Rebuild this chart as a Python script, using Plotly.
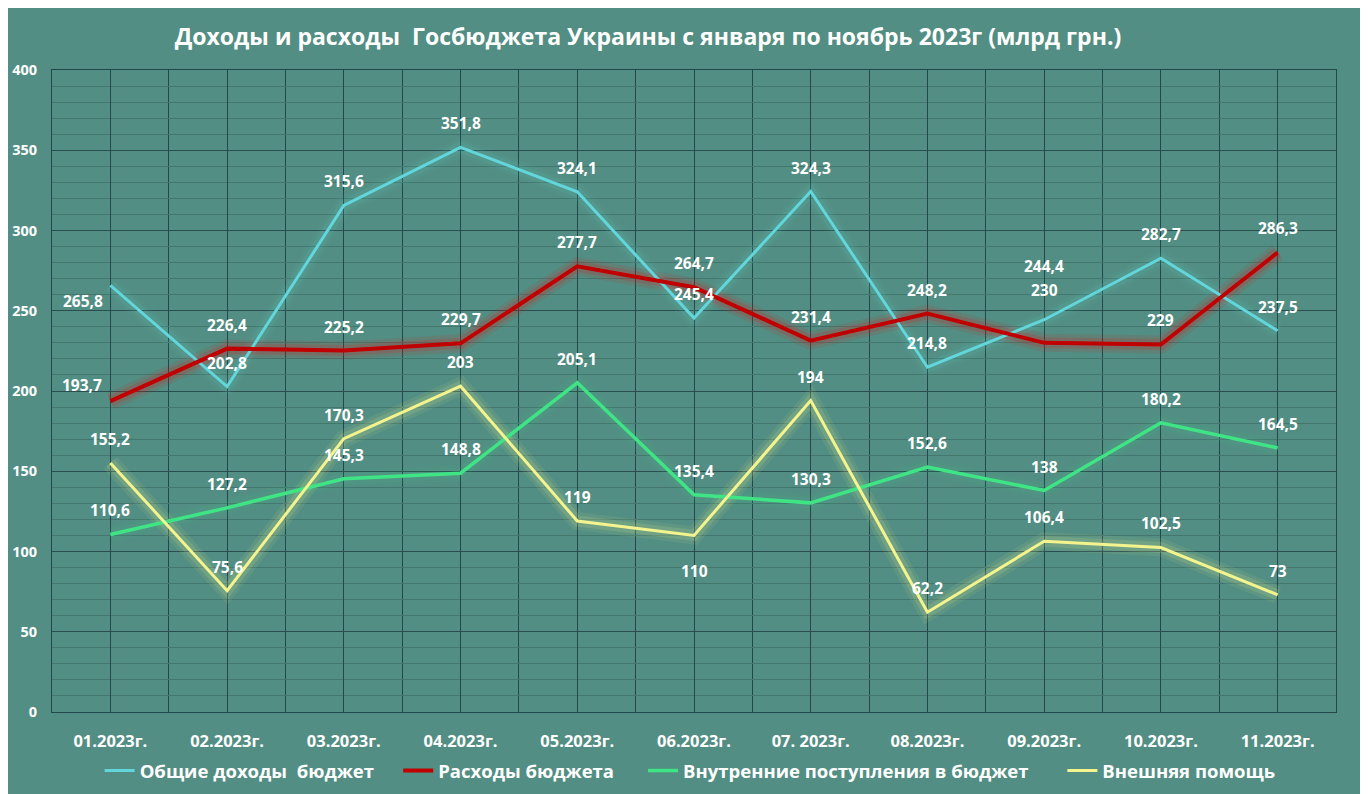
import plotly.graph_objects as go

categories = ["01.2023г.", "02.2023г.", "03.2023г.", "04.2023г.", "05.2023г.", "06.2023г.",
              "07. 2023г.", "08.2023г.", "09.2023г.", "10.2023г.", "11.2023г."]

total_income = [265.8, 202.8, 315.6, 351.8, 324.1, 245.4, 324.3, 214.8, 244.4, 282.7, 237.5]
expenses = [193.7, 226.4, 225.2, 229.7, 277.7, 264.7, 231.4, 248.2, 230, 229, 286.3]
domestic = [110.6, 127.2, 145.3, 148.8, 205.1, 135.4, 130.3, 152.6, 138, 180.2, 164.5]
foreign_aid = [155.2, 75.6, 170.3, 203, 119, 110, 194, 62.2, 106.4, 102.5, 73]

names = ["Общие доходы\u00a0 бюджет", "Расходы бюджета",
         "Внутренние поступления в бюджет", "Внешняя помощь"]

# styles
colors = ["#62d6da", "#c00000", "#3fe585", "#f4f48e"]
glow_colors = ["98,214,218", "230,20,20", "63,229,133", "244,244,142"]
widths = [3, 4, 3.5, 3]
glow_strength = [0.14, 0.30, 0.10, 0.22]
legend_pad = ["\u00a0" * 4, "\u00a0" * 5, "\u00a0" * 6, ""]

# label offsets (xshift, yshift) in px; default is straight above
default_off = (0, 24)
label_offsets = [
    {0: (-27, -16), 8: (0, 54)},
    {0: (-28, 16), 8: (0, 53)},
    {},
    {5: (0, -36)},
]

series = [total_income, expenses, domestic, foreign_aid]
x = list(range(len(categories)))

fig = go.Figure()

# glow layers
for s, vals in enumerate(series):
    for w, a in [(18, 0.35), (11, 0.6)]:
        fig.add_trace(go.Scatter(
            x=x, y=vals, mode="lines", showlegend=False, hoverinfo="skip",
            line=dict(color=f"rgba({glow_colors[s]},{glow_strength[s]*a})", width=w),
        ))

for s, vals in enumerate(series):
    fig.add_trace(go.Scatter(
        x=x, y=vals, mode="lines", name=f"<b>{names[s]}</b>{legend_pad[s]}",
        line=dict(color=colors[s], width=widths[s]),
    ))

font_family = "Open Sans"

annotations = []
for s, vals in enumerate(series):
    for i, v in enumerate(vals):
        xs, ys = label_offsets[s].get(i, default_off)
        txt = f"{v:g}".replace(".", ",")
        annotations.append(dict(
            x=i, y=v, xref="x", yref="y", text=f"<b>{txt}</b>", showarrow=False,
            xshift=xs, yshift=ys,
            font=dict(family=font_family, size=15.5, color="white"),
        ))

L, R, T, B = 44, 40, 62, 90
W, H = 1368, 794
pw = W - L - R

fig.update_layout(
    width=W, height=H,
    margin=dict(l=L, r=R, t=T, b=B, autoexpand=False),
    paper_bgcolor="#528e83",
    plot_bgcolor="#528e83",
    font=dict(family=font_family, color="white"),
    title=dict(
        text="<b>Доходы и расходы\u00a0 Госбюджета Украины с января по ноябрь 2023г (млрд грн.)</b>",
        x=640 / W, xanchor="center", y=1 - 29 / H, yanchor="middle",
        font=dict(family=font_family, size=23, color="white"),
    ),
    shapes=[dict(
        type="rect", xref="paper", yref="paper", layer="below",
        x0=(1354 - L) / pw, x1=1.2, y0=-0.3, y1=1.3,
        fillcolor="white", line=dict(width=0),
    )],
    xaxis=dict(
        range=[-0.5, len(categories) - 0.5], automargin=False,
        tickmode="array", tickvals=x, ticktext=[f"<b>{c}</b>" for c in categories],
        showgrid=True, gridcolor="#24474b", gridwidth=1,
        minor=dict(tickmode="array", tickvals=[i - 0.5 for i in range(len(categories) + 1)],
                   showgrid=True, gridcolor="#24474b", gridwidth=1),
        showline=True, linecolor="#24474b", linewidth=1, mirror=True,
        zeroline=False, ticks="", ticklabelstandoff=14,
        tickfont=dict(family=font_family, size=16.5, color="white"),
    ),
    yaxis=dict(
        range=[0, 400], dtick=50, tick0=0, automargin=False,
        showgrid=True, gridcolor="#2a4d50", gridwidth=1.2,
        minor=dict(dtick=10, showgrid=True, gridcolor="#43776e", gridwidth=1),
        showline=True, linecolor="#24474b", linewidth=1, mirror=True,
        zeroline=False, ticks="", ticklabelstandoff=11,
        tickfont=dict(family=font_family, size=14.5, color="white"),
        tickprefix="<b>", ticksuffix="</b>",
    ),
    legend=dict(
        orientation="h", x=0.497, xanchor="center", y=(704 - 763) / 642, yanchor="middle",
        font=dict(family=font_family, size=18.5, color="white"),
        bgcolor="rgba(0,0,0,0)",
    ),
    annotations=annotations,
)

fig.write_html("out.html")
